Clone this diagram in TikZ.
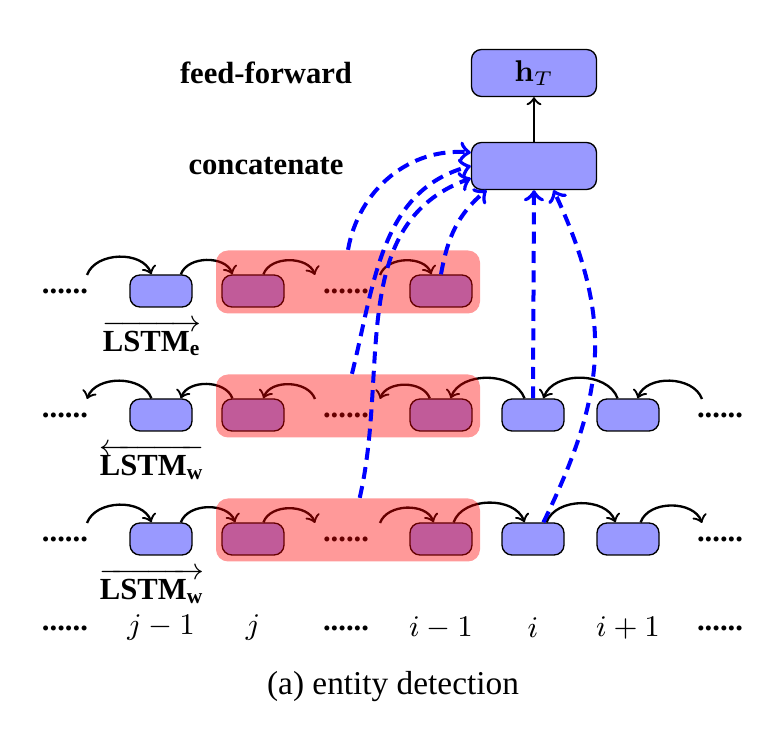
\documentclass[tikz,border=0pt]{standalone}
\usepackage{amsmath}
\usepackage[no-math]{fontspec}
\setmainfont{Liberation Serif}
\usepackage{tikz}
\usetikzlibrary{calc,positioning}

\begin{document}
\begin{tikzpicture}[x=0.3pt,y=0.3pt,
  font=\fontsize{9.2}{11}\selectfont,
  cell/.style={rectangle, rounded corners=3pt, draw=black, line width=0.4pt, fill=blue!40, minimum width=18.6pt, minimum height=9.6pt, inner sep=0pt},
  bigcell/.style={cell, minimum width=37.5pt, minimum height=14.1pt},
  hl/.style={rectangle, rounded corners=3.6pt, fill=red, fill opacity=0.4, minimum width=79.2pt, minimum height=18.9pt, inner sep=0pt},
  etc/.style={inner sep=0pt, font=\fontsize{9.2}{11}\selectfont\bfseries},
  lab/.style={font=\fontsize{9.2}{11}\selectfont\bfseries},
  flow/.style={->, line width=0.7pt, black},
  att/.style={->, very thick, blue, dash pattern=on 3.6pt off 2.2pt}]
  \useasboundingbox (0,0) rectangle (761,734);
  \foreach \n/\y in {1/443,2/319,3/195}{
    \node[etc] (d\n L) at (65,\y) {......};
    \node[etc] (d\n M) at (346,\y) {......};
    \foreach \m/\x in {jm/161,j/253,im/441}
      \node[cell] (b\n\m) at (\x,\y) {};
  }
  \foreach \n/\y in {2/319,3/195}{
    \node[etc] (d\n R) at (720,\y) {......};
    \node[cell] (b\n i) at (533,\y) {};
    \node[cell] (b\n ip) at (628,\y) {};
  }
  \foreach \n in {1,2,3}{
    \coordinate (c\n L) at ($(d\n L)+(22,16)$);
    \coordinate (c\n A) at ($(d\n M)+(-31,16)$);
    \coordinate (c\n B) at ($(d\n M)+(34,16)$);
  }
  \foreach \n in {2,3}
    \coordinate (c\n R) at ($(d\n R)+(-18,16)$);
  \foreach \a/\b in {c1L/b1jm.120, b1jm.40/b1j.141, b1j.58/c1A, c1B/b1im.120,
      c3L/b3jm.120, b3jm.40/b3j.137, b3j.58/c3A, c3B/b3im.114,
      b3im.53/b3i.117, b3i.51/b3ip.127, b3ip.53/c3R}
    \draw[flow] (\a) to[out=70,in=110] (\b);
  \foreach \a/\b in {b2jm.120/c2L, b2j.141/b2jm.40, c2A/b2j.58, b2im.124/c2B,
      b2i.117/b2im.60, b2ip.122/b2i.58, c2R/b2ip.60}
    \draw[flow] (\a) to[out=110,in=70] (\b);
  \foreach \n in {1,2,3}
    \node[hl] (hl\n) at ($(b\n j)!0.5!(b\n im)+(1,9)$) {};
  \node (l1) at ($(b1jm)+(-9,-47)$) {$\overrightarrow{\textbf{LSTM}_{\textbf{e}}}$};
  \node (l2) at ($(b2jm)+(-9,-47)$) {$\overleftarrow{\textbf{LSTM}_{\textbf{w}}}$};
  \node (l3) at ($(b3jm)+(-9,-47)$) {$\overrightarrow{\textbf{LSTM}_{\textbf{w}}}$};
  \foreach \t/\x in {\textbf{......}/65, $j-1$/161, $j$/253, \textbf{......}/346,
      $i-1$/441, $i$/533, $i+1$/628, \textbf{......}/720}
    \node (idx\x) at (\x,106) {\t};
  \node[bigcell] (concat) at (534,568) {};
  \node[bigcell] (hT) at (534,661) {$\mathbf{h}_T$};
  \node[lab] (ffw) at (266,661) {feed-forward};
  \node[lab] (cat) at (266,568) {concatenate};
  \draw[flow] (concat.north) -- (hT.south);
  \draw[att] (hl1.north) to[out=80,in=175] (concat.168);
  \draw[att] (hl2.83) to[out=76,in=195] (concat.west);
  \draw[att] (hl3.70) to[out=77,in=200] (concat.191);
  \draw[att] (b1im.north) to[out=80,in=220] (concat.207);
  \draw[att] (b2i.north) -- (concat.south);
  \draw[att] (b3i.58) to[out=64,in=-65,looseness=1.1] (concat.309);
  \node[font=\fontsize{10}{12}\selectfont] (cap) at (393,47) {(a) entity detection};
\end{tikzpicture}
\end{document}
